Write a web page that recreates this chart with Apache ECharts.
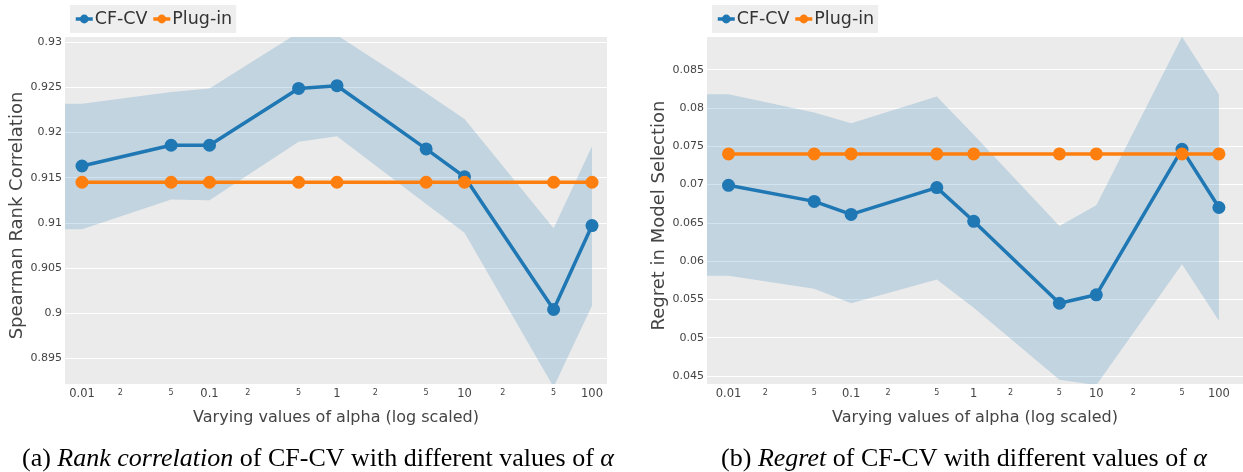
<!DOCTYPE html>
<html>
<head>
<meta charset="utf-8">
<script src="https://cdn.jsdelivr.net/npm/echarts@6/dist/echarts.min.js"></script>
<style>
html, body { margin: 0; padding: 0; background: #fff; }
#main { width: 1243px; height: 472px; }
</style>
</head>
<body>
<div id="main"></div>
<script>
// values
var alphas = [0.01, 0.05, 0.1, 0.5, 1, 5, 10, 50, 100];

var rankCFCV   = [0.9163, 0.9186, 0.9186, 0.9249, 0.9252, 0.9182, 0.9151, 0.9004, 0.9097];
var rankPlugin = [0.9145, 0.9145, 0.9145, 0.9145, 0.9145, 0.9145, 0.9145, 0.9145, 0.9145];
var rankUpper  = [0.9232, 0.9245, 0.9249, 0.9311, 0.9308, 0.9244, 0.9215, 0.9094, 0.9185];
var rankLower  = [0.9093, 0.9126, 0.9125, 0.9190, 0.9196, 0.9121, 0.9089, 0.8918, 0.9008];

var regretCFCV   = [0.0699, 0.0678, 0.0661, 0.0696, 0.0652, 0.0545, 0.0556, 0.0746, 0.0670];
var regretPlugin = [0.0740, 0.0740, 0.0740, 0.0740, 0.0740, 0.0740, 0.0740, 0.0740, 0.0740];
var regretUpper  = [0.0818, 0.0794, 0.0780, 0.0815, 0.0765, 0.0646, 0.0673, 0.0893, 0.0818];
var regretLower  = [0.0581, 0.0564, 0.0545, 0.0576, 0.0539, 0.0445, 0.0438, 0.0596, 0.0522];

var xTicks = [0.01, 0.02, 0.05, 0.1, 0.2, 0.5, 1, 2, 5, 10, 20, 50, 100];
var rankTicks = [0.895, 0.9, 0.905, 0.91, 0.915, 0.92, 0.925, 0.93];
var regretTicks = [0.045, 0.05, 0.055, 0.06, 0.065, 0.07, 0.075, 0.08, 0.085];

var blue = '#1f77b4';
var orange = '#ff7f0e';
var font = 'DejaVu Sans';

function pairs(ys) {
    return alphas.map(function (a, i) { return [a, ys[i]]; });
}

function xLabel(v) {
    var e = Math.floor(Math.log10(v) + 1e-9);
    var lead = Math.round(v / Math.pow(10, e));
    if (lead === 1) return '{maj|' + (+v.toPrecision(2)) + '}';
    return '{min|' + lead + '}';
}

function yLabel(v) {
    return String(+v.toFixed(3));
}

function bandItem(upper, lower) {
    return function (params, api) {
        var cs = params.coordSys;
        var pts = [];
        pts.push([cs.x, api.coord([alphas[0], upper[0]])[1]]);
        for (var i = 0; i < alphas.length; i++) {
            pts.push(api.coord([alphas[i], upper[i]]));
        }
        for (var j = alphas.length - 1; j >= 0; j--) {
            pts.push(api.coord([alphas[j], lower[j]]));
        }
        pts.push([cs.x, api.coord([alphas[0], lower[0]])[1]]);
        return {
            type: 'polygon',
            shape: { points: pts },
            style: { fill: 'rgba(31,119,180,0.2)' }
        };
    };
}

function xAxis(idx, min, max) {
    return {
        type: 'log',
        gridIndex: idx,
        min: min,
        max: max,
        name: 'Varying values of alpha (log scaled)',
        nameLocation: 'middle',
        nameGap: 26,
        nameTextStyle: { fontFamily: font, fontSize: 16, color: '#444' },
        axisLine: { show: false },
        axisTick: { show: false, customValues: xTicks },
        splitLine: { show: false },
        axisLabel: {
            customValues: xTicks,
            margin: 3,
            formatter: xLabel,
            rich: {
                maj: { fontFamily: font, fontSize: 11.5, color: '#444', lineHeight: 14 },
                min: { fontFamily: font, fontSize: 8, color: '#444', lineHeight: 14, padding: [0, 0, 3, 0] }
            }
        }
    };
}

function yAxis(idx, min, max, ticks, name) {
    return {
        type: 'value',
        gridIndex: idx,
        min: min,
        max: max,
        name: name,
        nameLocation: 'middle',
        nameGap: 35,
        nameTextStyle: { fontFamily: font, fontSize: 18, color: '#444', padding: [0, 10, 0, 0] },
        axisLine: { show: false },
        axisTick: { show: false, customValues: ticks },
        axisLabel: {
            customValues: ticks,
            margin: 3,
            formatter: yLabel,
            fontFamily: font,
            fontSize: 11,
            color: '#444'
        },
        splitLine: { show: true, lineStyle: { color: '#ffffff', width: 1 } }
    };
}

function lineSeries(name, idx, ys, color, z) {
    return {
        name: name,
        type: 'line',
        xAxisIndex: idx,
        yAxisIndex: idx,
        data: pairs(ys),
        symbol: 'circle',
        symbolSize: 13,
        lineStyle: { color: color, width: 3.5 },
        itemStyle: { color: color },
        z: z,
        animation: false
    };
}

function legend(left) {
    return {
        left: left,
        top: 5,
        data: ['CF-CV', 'Plug-in'],
        backgroundColor: '#eeeeee',
        padding: [5, 4],
        itemGap: 4,
        itemWidth: 17,
        itemHeight: 11,
        lineStyle: { width: 3.5 },
        textStyle: { fontFamily: font, fontSize: 17.5, color: '#333', padding: [0, 0, 0, -3] }
    };
}

var myChart = echarts.init(document.getElementById('main'));
var option = {
    animation: false,
    legend: [legend(70), legend(712)],
    grid: [
        { left: 65, top: 37, width: 542, height: 347, show: true, backgroundColor: '#ebebeb', borderWidth: 0 },
        { left: 707, top: 37, width: 536, height: 347, show: true, backgroundColor: '#ebebeb', borderWidth: 0 }
    ],
    xAxis: [xAxis(0, 0.007356, 131.1), xAxis(1, 0.006678, 157.2)],
    yAxis: [
        yAxis(0, 0.89214, 0.9306, rankTicks, 'Spearman Rank Correlation'),
        yAxis(1, 0.04395, 0.08927, regretTicks, 'Regret in Model Selection')
    ],
    series: [
        {
            type: 'custom', xAxisIndex: 0, yAxisIndex: 0, clip: true, silent: true, z: 1,
            data: [[alphas[0], rankCFCV[0]]],
            renderItem: bandItem(rankUpper, rankLower)
        },
        lineSeries('CF-CV', 0, rankCFCV, blue, 2),
        lineSeries('Plug-in', 0, rankPlugin, orange, 3),
        {
            type: 'custom', xAxisIndex: 1, yAxisIndex: 1, clip: true, silent: true, z: 1,
            data: [[alphas[0], regretCFCV[0]]],
            renderItem: bandItem(regretUpper, regretLower)
        },
        lineSeries('CF-CV', 1, regretCFCV, blue, 2),
        lineSeries('Plug-in', 1, regretPlugin, orange, 3)
    ],
    graphic: [
        {
            type: 'text', x: 318, y: 459,
            style: {
                text: '(a) {i|Rank correlation} of CF-CV with different values of {i|α}',
                align: 'center', verticalAlign: 'middle',
                fontFamily: 'Liberation Serif', fontSize: 26, fill: '#000',
                rich: { i: { fontFamily: 'Liberation Serif', fontSize: 26, fontStyle: 'italic' } }
            }
        },
        {
            type: 'text', x: 964, y: 459,
            style: {
                text: '(b) {i|Regret} of CF-CV with different values of {i|α}',
                align: 'center', verticalAlign: 'middle',
                fontFamily: 'Liberation Serif', fontSize: 26, fill: '#000',
                rich: { i: { fontFamily: 'Liberation Serif', fontSize: 26, fontStyle: 'italic' } }
            }
        }
    ]
};
myChart.setOption(option);
</script>
</body>
</html>
